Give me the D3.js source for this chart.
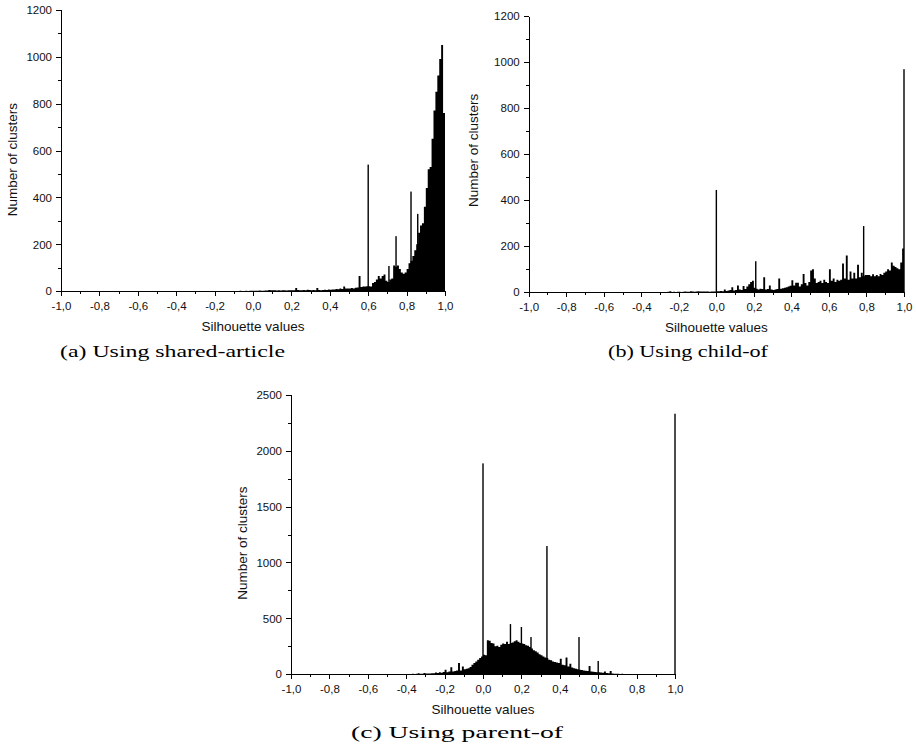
<!DOCTYPE html>
<html>
<head>
<meta charset="utf-8">
<script src="https://cdn.jsdelivr.net/npm/d3@7"></script>
<style>
  body { margin: 0; background: #fff; }
  .tick text { font-family: "Liberation Sans", Arial, sans-serif; font-size: 11.5px; fill: #111; }
  .axis path, .axis line { stroke: #000; stroke-width: 1; shape-rendering: crispEdges; }
  .title { font-family: "Liberation Sans", Arial, sans-serif; font-size: 13.5px; fill: #111; }
  .caption { font-family: "Liberation Serif", "Times New Roman", serif; font-size: 17.5px; fill: #000; }
</style>
</head>
<body>
<div id="chart"></div>
<script>
// histogram counts, one value per 0.01 wide bin from -1.0 up to 0.99 (one row = 0.1)
var sharedArticleCounts = [
  0, 0, 0, 0, 0, 0, 0, 0, 0, 0,
  0, 0, 0, 0, 0, 0, 0, 0, 0, 0,
  0, 0, 0, 0, 0, 0, 0, 0, 0, 0,
  0, 0, 0, 0, 0, 0, 0, 0, 0, 0,
  0, 0, 0, 0, 0, 0, 0, 0, 0, 0,
  0, 0, 0, 0, 0, 0, 0, 1, 0, 0,
  0, 0, 0, 1, 0, 0, 0, 0, 1, 0,
  0, 1, 0, 0, 1, 0, 0, 1, 0, 1,
  1, 0, 1, 1, 0, 1, 1, 0, 1, 1,
  1, 1, 1, 2, 1, 1, 2, 1, 2, 2,
  2, 2, 2, 3, 2, 2, 3, 3, 6, 4,
  4, 5, 3, 4, 3, 5, 4, 3, 5, 4,
  5, 4, 14, 6, 5, 4, 6, 5, 7, 6,
  5, 6, 4, 14, 6, 5, 6, 7, 6, 8,
  7, 8, 8, 10, 9, 12, 10, 20, 12, 12,
  12, 14, 12, 15, 16, 65, 18, 20, 20, 22,
  22, 20, 35, 40, 50, 65, 55, 65, 72, 45,
  40, 50, 55, 110, 105, 110, 95, 80, 75, 80,
  95, 120, 130, 150, 175, 200, 250, 280, 290, 360,
  440, 520, 530, 650, 770, 850, 920, 990, 1050, 760
];
var childOfCounts = [
  0, 0, 0, 0, 0, 0, 0, 0, 0, 0,
  0, 0, 0, 0, 0, 0, 0, 0, 0, 0,
  0, 0, 0, 0, 0, 0, 0, 0, 0, 0,
  0, 0, 0, 0, 0, 0, 0, 0, 0, 0,
  0, 0, 0, 0, 0, 0, 0, 0, 0, 0,
  0, 0, 0, 0, 0, 0, 0, 0, 0, 0,
  0, 0, 1, 0, 0, 1, 0, 0, 1, 0,
  1, 0, 1, 0, 2, 5, 1, 2, 1, 2,
  2, 1, 2, 3, 2, 2, 5, 3, 2, 3,
  5, 3, 4, 3, 4, 3, 2, 3, 4, 3,
  5, 5, 6, 5, 12, 6, 8, 10, 22, 8,
  10, 30, 12, 10, 27, 14, 25, 35, 45, 50,
  20, 15, 12, 15, 14, 65, 12, 14, 30, 12,
  10, 12, 14, 60, 15, 18, 20, 22, 25, 28,
  52, 30, 42, 42, 25, 35, 80, 40, 30, 45,
  95, 100, 60, 40, 45, 50, 40, 55, 45, 40,
  100, 50, 60, 45, 55, 50, 55, 125, 60, 160,
  55, 90, 60, 85, 60, 120, 65, 85, 70, 75,
  75, 75, 70, 78, 70, 75, 70, 80, 75, 85,
  90, 100, 95, 130, 115, 110, 105, 100, 130, 190
];
var parentOfCounts = [
  0, 0, 0, 0, 0, 0, 0, 0, 0, 0,
  0, 0, 0, 0, 0, 0, 0, 0, 0, 0,
  0, 0, 0, 0, 0, 0, 0, 0, 0, 0,
  0, 0, 0, 0, 0, 0, 0, 0, 0, 0,
  0, 0, 0, 0, 0, 0, 0, 0, 1, 0,
  0, 1, 0, 1, 1, 2, 1, 2, 3, 2,
  2, 3, 2, 4, 3, 5, 10, 4, 6, 12,
  8, 7, 8, 10, 9, 15, 12, 18, 14, 20,
  40, 18, 25, 62, 25, 30, 35, 100, 35, 70,
  45, 50, 55, 65, 85, 100, 115, 130, 145, 160,
  175, 170, 305, 300, 280, 275, 250, 255, 245, 265,
  275, 270, 290, 270, 280, 285, 295, 305, 290, 280,
  275, 270, 260, 255, 245, 230, 215, 205, 195, 180,
  170, 160, 150, 145, 130, 125, 115, 110, 105, 100,
  140, 85, 80, 150, 70, 95, 60, 55, 50, 45,
  40, 38, 35, 32, 30, 74, 25, 22, 20, 18,
  18, 15, 14, 25, 12, 10, 30, 8, 6, 5,
  4, 3, 4, 3, 2, 3, 2, 2, 3, 2,
  2, 1, 2, 1, 1, 2, 1, 1, 1, 1,
  1, 1, 0, 1, 1, 0, 1, 0, 1, 1
];

// single-value spikes: [silhouette value, count]
var sharedArticleSpikes = [[0.6, 540], [0.708, 108], [0.745, 235], [0.823, 425], [0.858, 330]];
var childOfSpikes = [[0.0, 445], [0.21, 135], [0.785, 288], [1.0, 970]];
var parentOfSpikes = [[0.0, 1886], [0.143, 449], [0.2, 423], [0.25, 333], [0.333, 1147], [0.5, 333], [0.6, 119], [1.0, 2330]];

var binWidth = 0.01;
var binStarts = d3.range(200).map(function (i) { return -1 + i * binWidth; });

var xTicks = [-1, -0.8, -0.6, -0.4, -0.2, 0, 0.2, 0.4, 0.6, 0.8, 1];
var xMinorTicks = [-0.9, -0.7, -0.5, -0.3, -0.1, 0.1, 0.3, 0.5, 0.7, 0.9];
var yTicksSmall = [0, 200, 400, 600, 800, 1000, 1200];
var yMinorSmall = [100, 300, 500, 700, 900, 1100];
var yTicksLarge = [0, 500, 1000, 1500, 2000, 2500];
var yMinorLarge = [250, 750, 1250, 1750, 2250];

var xTitle = 'Silhouette values';
var yTitle = 'Number of clusters';

// comma decimals, plain hyphen minus
var locale = d3.formatLocale({ decimal: ',', thousands: '.', grouping: [3], currency: ['', ''], minus: '-' });
var fmtX = locale.format('.1f');

var svg = d3.select('#chart').append('svg')
    .attr('width', 916)
    .attr('height', 756);

function drawPanel(p) {
    var g = svg.append('g').attr('transform', 'translate(' + p.left + ',' + p.top + ')');
    var x = d3.scaleLinear().domain([-1, 1]).range([0, p.width]);
    var y = d3.scaleLinear().domain([0, p.yMax]).range([p.height, 0]);

    // histogram as one stepped area, so neighbouring bins don't leave seams
    var bins = binStarts.map(function (b, i) { return { x0: b, v: p.counts[i] }; });
    bins.push({ x0: 1, v: 0 });
    var area = d3.area()
        .curve(d3.curveStepAfter)
        .x(function (d) { return x(d.x0); })
        .y0(y(0))
        .y1(function (d) { return y(d.v); });
    g.append('path')
        .datum(bins)
        .attr('class', 'hist')
        .attr('d', area)
        .attr('fill', '#000');

    g.append('g').selectAll('rect.spike')
        .data(p.spikes)
        .enter().append('rect')
        .attr('class', 'spike')
        .attr('x', function (d) { return x(d[0]) - 0.7; })
        .attr('width', 1.4)
        .attr('y', function (d) { return y(d[1]); })
        .attr('height', function (d) { return y(0) - y(d[1]); })
        .attr('fill', '#000');

    // x axis, major + minor
    var xAxis = g.append('g')
        .attr('class', 'axis')
        .attr('transform', 'translate(0,' + p.height + ')')
        .call(d3.axisBottom(x).tickValues(xTicks).tickFormat(fmtX).tickSizeInner(5).tickSizeOuter(0));
    xAxis.selectAll('text').attr('dy', null).attr('y', 18.5);
    g.append('g')
        .attr('class', 'axis')
        .attr('transform', 'translate(0,' + p.height + ')')
        .call(d3.axisBottom(x).tickValues(xMinorTicks).tickFormat('').tickSizeInner(3).tickSizeOuter(0))
        .select('.domain').remove();

    // y axis
    g.append('g')
        .attr('class', 'axis')
        .call(d3.axisLeft(y).tickValues(p.yTicks).tickFormat(d3.format('d')).tickSizeInner(5).tickSizeOuter(0).tickPadding(4));
    g.append('g')
        .attr('class', 'axis')
        .call(d3.axisLeft(y).tickValues(p.yMinor).tickFormat('').tickSizeInner(3).tickSizeOuter(0))
        .select('.domain').remove();

    g.append('text')
        .attr('class', 'title')
        .attr('x', x(0))
        .attr('y', p.height + p.xTitleGap)
        .attr('text-anchor', 'middle')
        .text(xTitle);
    g.append('text')
        .attr('class', 'title')
        .attr('transform', 'translate(' + p.yTitleX + ',' + p.yTitleY + ') rotate(-90)')
        .attr('text-anchor', 'middle')
        .text(yTitle);

    svg.append('text')
        .attr('class', 'caption')
        .attr('x', p.capX)
        .attr('y', p.capY)
        .attr('text-anchor', 'middle')
        .attr('textLength', p.capW)
        .attr('lengthAdjust', 'spacingAndGlyphs')
        .text(p.caption);
}

drawPanel({
    left: 61, top: 9.7, width: 384, height: 281.6,
    yMax: 1200, yTicks: yTicksSmall, yMinor: yMinorSmall,
    counts: sharedArticleCounts, spikes: sharedArticleSpikes,
    xTitleGap: 39.5, yTitleX: -44.5, yTitleY: 150,
    caption: '(a) Using shared-article', capX: 172.5, capY: 357, capW: 225
});
drawPanel({
    left: 528.7, top: 16.3, width: 375.3, height: 276,
    yMax: 1200, yTicks: yTicksSmall, yMinor: yMinorSmall,
    counts: childOfCounts, spikes: childOfSpikes,
    xTitleGap: 39.5, yTitleX: -51.2, yTitleY: 134,
    caption: '(b) Using child-of', capX: 688, capY: 357, capW: 160
});
drawPanel({
    left: 291, top: 394.7, width: 384, height: 279.6,
    yMax: 2500, yTicks: yTicksLarge, yMinor: yMinorLarge,
    counts: parentOfCounts, spikes: parentOfSpikes,
    xTitleGap: 40, yTitleX: -44.5, yTitleY: 148.5,
    caption: '(c) Using parent-of', capX: 457, capY: 738, capW: 212
});
</script>
</body>
</html>
